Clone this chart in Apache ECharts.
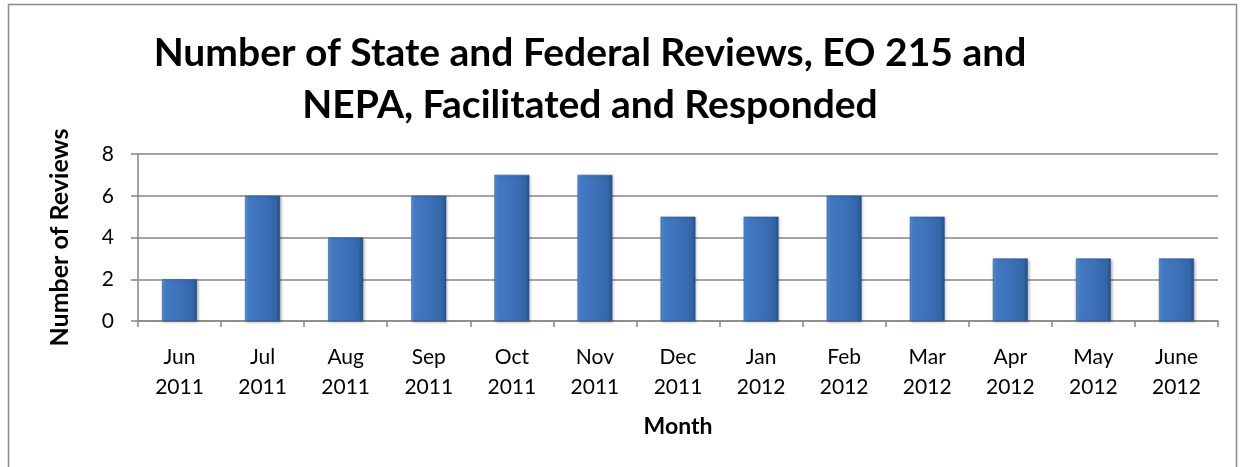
<!DOCTYPE html>
<html>
<head>
<meta charset="utf-8">
<script src="https://cdn.jsdelivr.net/npm/echarts@6/dist/echarts.min.js"></script>
<style>
html, body { margin: 0; padding: 0; background: #fff; }
#main { width: 1243px; height: 467px; }
</style>
</head>
<body>
<div id="main"></div>
<script>
// 月份与评审数量
var months = ['Jun\n2011', 'Jul\n2011', 'Aug\n2011', 'Sep\n2011', 'Oct\n2011', 'Nov\n2011', 'Dec\n2011',
    'Jan\n2012', 'Feb\n2012', 'Mar\n2012', 'Apr\n2012', 'May\n2012', 'June\n2012'];
var reviews = [2, 6, 4, 6, 7, 7, 5, 5, 6, 5, 3, 3, 3];
var yTicks = [0, 2, 4, 6, 8];

var myChart = echarts.init(document.getElementById('main'));
var font = 'Lato, "Open Sans", sans-serif';

option = {
    backgroundColor: '#fff',
    graphic: [{
        type: 'rect',
        shape: { x: 8.5, y: 4.5, width: 1228, height: 470 },
        style: { fill: 'none', stroke: '#8c8c8c', lineWidth: 1.5 },
        silent: true
    }],
    title: {
        text: 'Number of State and Federal Reviews, EO 215 and\nNEPA, Facilitated and Responded',
        left: 585,
        top: 22,
        textAlign: 'center',
        textStyle: {
            fontFamily: font,
            fontWeight: 'bold',
            fontSize: 39,
            lineHeight: 52,
            color: '#000'
        }
    },
    grid: {
        left: 138,
        right: 25,
        top: 154,
        bottom: 146
    },
    xAxis: {
        type: 'category',
        data: months,
        name: 'Month',
        nameLocation: 'middle',
        nameGap: 94,
        nameTextStyle: { fontFamily: font, fontWeight: 'bold', fontSize: 23, color: '#000' },
        axisLine: { lineStyle: { color: '#868686', width: 1.5 } },
        axisTick: { show: true, length: 6, lineStyle: { color: '#868686', width: 1.5 } },
        axisLabel: { fontFamily: font, fontSize: 21, color: '#000', lineHeight: 30, margin: 21 }
    },
    yAxis: {
        type: 'value',
        min: yTicks[0],
        max: yTicks[yTicks.length - 1],
        interval: 2,
        name: 'Number of Reviews',
        nameLocation: 'middle',
        nameGap: 66,
        nameRotate: 90,
        nameTextStyle: { fontFamily: font, fontWeight: 'bold', fontSize: 25, color: '#000' },
        axisLine: { show: true, lineStyle: { color: '#868686', width: 1.5 } },
        axisTick: { show: true, length: 7, lineStyle: { color: '#868686', width: 1.5 } },
        splitLine: { lineStyle: { color: '#868686', width: 1.5 } },
        axisLabel: { fontFamily: font, fontSize: 21, color: '#000', margin: 24 }
    },
    series: [{
        type: 'bar',
        data: reviews,
        barWidth: '42%',
        animation: false,
        itemStyle: {
            color: new echarts.graphic.LinearGradient(0, 0, 1, 0, [
                { offset: 0, color: '#5a90d4' },
                { offset: 0.12, color: '#4179c2' },
                { offset: 0.5, color: '#3d72ba' },
                { offset: 0.88, color: '#3466a8' },
                { offset: 1, color: '#24508a' }
            ]),
            borderColor: '#2a5590',
            borderWidth: 0.5,
            shadowColor: 'rgba(0,0,0,0.3)',
            shadowBlur: 3,
            shadowOffsetX: 1,
            shadowOffsetY: 1
        }
    }]
};
myChart.setOption(option);
</script>
</body>
</html>
